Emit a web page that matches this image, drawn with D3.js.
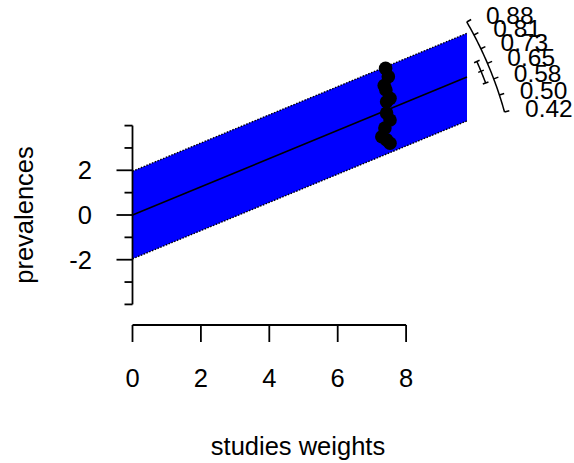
<!DOCTYPE html>
<html>
<head>
<meta charset="utf-8">
<script src="https://cdn.jsdelivr.net/npm/d3@7"></script>
<style>
  html, body { margin: 0; padding: 0; background: #fff; }
  svg { display: block; font-family: "Liberation Sans", Arial, sans-serif; }
</style>
</head>
<body>
<svg id="chart" width="574" height="463"></svg>
<script>
// ---- data ----
const xTickValues = [0, 2, 4, 6, 8];
const yTickValues = [-4, -3, -2, -1, 0, 1, 2, 3, 4];
const yLabelValues = [-2, 0, 2];
const studyWeights = [7.40, 7.48, 7.36, 7.41, 7.53, 7.43, 7.43, 7.53, 7.38, 7.29, 7.43, 7.53];
const studyValues  = [6.56, 6.19, 5.79, 5.59, 5.22, 5.07, 4.56, 4.25, 3.89, 3.50, 3.36, 3.21];
const pooledEstimate = 0.631;
const pooledCI = [0.572, 0.682];
const bandHalfWidth = 1.96;
const bandXMax = 9.78;
const arcValues = [0.8835, 0.8068, 0.7302, 0.6535, 0.5768, 0.5002, 0.4235];
const arcLabels = ["0.88", "0.81", "0.73", "0.65", "0.58", "0.50", "0.42"];

// ---- layout ----
const svg = d3.select("#chart");
const x = d3.scaleLinear().domain([0, 8]).range([132.5, 406.1]);
const y = d3.scaleLinear().domain([-4, 4]).range([304.4, 125.6]);
const fontSize = 25.5;
const arcFontSize = 24.5;
const stroke = 1.8;

// band
const bandX = [0, bandXMax];
const bandPoly = [
  [0, pooledEstimate * 0 + bandHalfWidth],
  [bandXMax, pooledEstimate * bandXMax + bandHalfWidth],
  [bandXMax, pooledEstimate * bandXMax - bandHalfWidth],
  [0, pooledEstimate * 0 - bandHalfWidth]
];
svg.append("polygon")
  .attr("points", bandPoly.map(d => [x(d[0]), y(d[1])].join(",")).join(" "))
  .attr("fill", "#0000FF");

const line = d3.line().x(d => x(d[0])).y(d => y(d[1]));
[bandHalfWidth, -bandHalfWidth].forEach(off => {
  svg.append("path")
    .attr("d", line(bandX.map(v => [v, pooledEstimate * v + off])))
    .attr("stroke", "#000").attr("stroke-width", 1.4)
    .attr("stroke-dasharray", "1.5,1.5").attr("fill", "none");
});

// center line
svg.append("path")
  .attr("d", line(bandX.map(v => [v, pooledEstimate * v])))
  .attr("stroke", "#000").attr("stroke-width", 1.6).attr("fill", "none");

// points
svg.append("g").selectAll("circle")
  .data(studyWeights.map((w, i) => [w, studyValues[i]]))
  .join("circle")
  .attr("cx", d => x(d[0])).attr("cy", d => y(d[1]))
  .attr("r", 6.8).attr("fill", "#000");

// y axis
const gy = svg.append("g").attr("stroke", "#000").attr("stroke-width", stroke);
gy.append("line").attr("x1", x(0)).attr("x2", x(0)).attr("y1", y(4)).attr("y2", y(-4));
gy.selectAll("line.tick").data(yTickValues).join("line").attr("class", "tick")
  .attr("x1", x(0))
  .attr("x2", d => x(0) - (yLabelValues.includes(d) ? 16 : 8))
  .attr("y1", d => y(d)).attr("y2", d => y(d));
svg.append("g").selectAll("text").data(yLabelValues).join("text")
  .attr("x", 92).attr("y", d => y(d)).attr("dy", "0.35em")
  .attr("text-anchor", "end").attr("font-size", fontSize).attr("fill", "#000")
  .text(d => d);

// x axis
const axisY = 325;
const gx = svg.append("g").attr("stroke", "#000").attr("stroke-width", stroke);
gx.append("line").attr("x1", x(0)).attr("x2", x(8)).attr("y1", axisY).attr("y2", axisY);
gx.selectAll("line.tick").data(xTickValues).join("line").attr("class", "tick")
  .attr("x1", d => x(d)).attr("x2", d => x(d)).attr("y1", axisY).attr("y2", axisY + 17);
svg.append("g").selectAll("text").data(xTickValues).join("text")
  .attr("x", d => x(d)).attr("y", 386.5)
  .attr("text-anchor", "middle").attr("font-size", fontSize).attr("fill", "#000")
  .text(d => d);

// axis titles
svg.append("text").attr("x", 298).attr("y", 455).attr("text-anchor", "middle")
  .attr("font-size", fontSize).attr("fill", "#000").text("studies weights");
svg.append("text").attr("transform", "translate(33,215) rotate(-90)")
  .attr("text-anchor", "middle").attr("font-size", fontSize).attr("fill", "#000")
  .text("prevalences");

// radial arc: direction of the line y = z*x in pixel space
const ox = x(0), oy = y(0);
function dir(z) {
  const dx = x(1) - x(0), dy = y(z) - y(0);
  const n = Math.hypot(dx, dy);
  return [dx / n, dy / n];
}
function pt(z, r) { const d = dir(z); return [ox + d[0] * r, oy + d[1] * r]; }

const R_OUT = 386, R_IN = 377, R_LAB = 400, LAB_OFF = 7;
const arcLine = d3.line();
const zMin = d3.min(arcValues), zMax = d3.max(arcValues);
const arcPts = d3.range(0, 41).map(i => pt(zMin + (zMax - zMin) * i / 40, R_OUT));
svg.append("path").attr("d", arcLine(arcPts)).attr("stroke", "#000")
  .attr("stroke-width", 1.5).attr("fill", "none");
arcValues.forEach(z => {
  const a = pt(z, R_OUT), b = pt(z, R_OUT + 5);
  svg.append("line").attr("x1", a[0]).attr("y1", a[1]).attr("x2", b[0]).attr("y2", b[1])
    .attr("stroke", "#000").attr("stroke-width", 1.5);
});
arcValues.forEach((z, i) => {
  const p = pt(z, R_LAB);
  svg.append("text").attr("x", p[0] + LAB_OFF).attr("y", p[1]).attr("dy", "0.35em")
    .attr("font-size", arcFontSize).attr("fill", "#000").text(arcLabels[i]);
});

// CI arc
const ciPts = d3.range(0, 21).map(i => pt(pooledCI[0] + (pooledCI[1] - pooledCI[0]) * i / 20, R_IN));
svg.append("path").attr("d", arcLine(ciPts)).attr("stroke", "#000")
  .attr("stroke-width", 1.5).attr("fill", "none");
[pooledCI[0], pooledEstimate, pooledCI[1]].forEach(z => {
  const a = pt(z, R_IN - 3), b = pt(z, R_IN + 3);
  svg.append("line").attr("x1", a[0]).attr("y1", a[1]).attr("x2", b[0]).attr("y2", b[1])
    .attr("stroke", "#000").attr("stroke-width", 1.5);
});
</script>
</body>
</html>
